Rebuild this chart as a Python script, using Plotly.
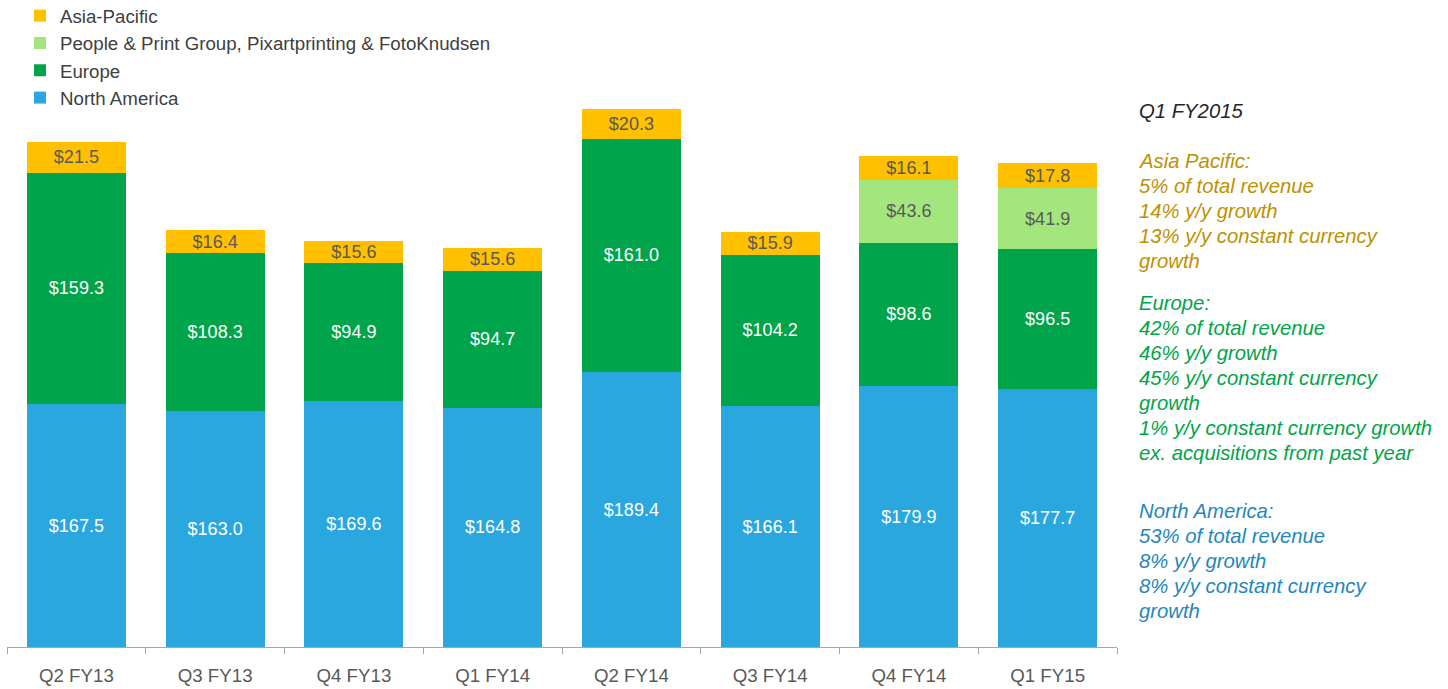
import plotly.graph_objects as go

categories = ["Q2 FY13", "Q3 FY13", "Q4 FY13", "Q1 FY14", "Q2 FY14", "Q3 FY14", "Q4 FY14", "Q1 FY15"]
north_america = [167.5, 163.0, 169.6, 164.8, 189.4, 166.1, 179.9, 177.7]
europe = [159.3, 108.3, 94.9, 94.7, 161.0, 104.2, 98.6, 96.5]
people_print = [None, None, None, None, None, None, 43.6, 41.9]
asia_pacific = [21.5, 16.4, 15.6, 15.6, 20.3, 15.9, 16.1, 17.8]

series = [
    ("North America", north_america, "#2AA7DF", "#FFFFFF"),
    ("Europe", europe, "#00A44A", "#FFFFFF"),
    ("People & Print Group, Pixartprinting & FotoKnudsen", people_print, "#A3E67E", "#595959"),
    ("Asia-Pacific", asia_pacific, "#FFC000", "#595959"),
]

FONT = "Liberation Sans, Arial, sans-serif"

fig = go.Figure()
for i, (name, vals, color, tcol) in enumerate(series):
    fig.add_trace(go.Bar(
        name=name, x=categories, y=vals,
        marker=dict(color=color, line=dict(width=0)),
        text=[("$%.1f" % v) if v is not None else "" for v in vals],
        textposition="inside", insidetextanchor="middle", constraintext="none",
        textfont=dict(family=FONT, size=18, color=tcol),
        legendgroup="g%d" % i,
        hoverinfo="skip",
    ))

# Plot area geometry (pixels)
L, R, T, B = 7, 1117, 100, 647
W, H = 1448, 689

def px(x):
    return (x - L) / (R - L)

def py(y):
    return (B - y) / (B - T)

notes = [
    ("Q1 FY2015", 111, "#262626"),
    ("Asia Pacific:", 161, "#BF9000"),
    ("5% of total revenue", 186, "#BF9000"),
    ("14% y/y growth", 211, "#BF9000"),
    ("13% y/y constant currency", 236, "#BF9000"),
    ("growth", 261, "#BF9000"),
    ("Europe:", 303, "#00A44A"),
    ("42% of total revenue", 328, "#00A44A"),
    ("46% y/y growth", 353, "#00A44A"),
    ("45% y/y constant currency", 378, "#00A44A"),
    ("growth", 403, "#00A44A"),
    ("1% y/y constant currency growth", 428, "#00A44A"),
    ("ex. acquisitions from past year", 453, "#00A44A"),
    ("North America:", 511, "#1F87BC"),
    ("53% of total revenue", 536, "#1F87BC"),
    ("8% y/y growth", 561, "#1F87BC"),
    ("8% y/y constant currency", 586, "#1F87BC"),
    ("growth", 611, "#1F87BC"),
]
for txt, y, col in notes:
    fig.add_annotation(
        text="<i>%s</i>" % txt, xref="paper", yref="paper",
        x=px(1137), y=py(y), xanchor="left", yanchor="middle",
        showarrow=False, font=dict(family=FONT, size=20.3, color=col),
    )

fig.update_layout(
    width=W, height=H,
    margin=dict(l=L, r=W - R, t=T, b=H - B, pad=0, autoexpand=False),
    barmode="stack", bargap=0.286,
    plot_bgcolor="white", paper_bgcolor="white",
    font=dict(family=FONT, size=18, color="#595959"),
    legend=dict(
        traceorder="reversed", xref="container", yref="paper",
        x=20 / W, y=py(-3), xanchor="left", yanchor="top",
        font=dict(family=FONT, size=18.7, color="#404040"),
        bgcolor="rgba(0,0,0,0)", tracegroupgap=0,
        itemclick=False, itemdoubleclick=False,
    ),
    xaxis=dict(
        showline=True, linecolor="#A6A6A6", linewidth=1,
        ticks="outside", tickson="boundaries", ticklen=6, tickcolor="#A6A6A6",
        tickfont=dict(family=FONT, size=18.7, color="#595959"),
        ticklabelstandoff=12, showgrid=False, fixedrange=True,
    ),
    yaxis=dict(
        range=[0, (B - T) / (243 / 167.5)], visible=False,
        showgrid=False, zeroline=False, fixedrange=True,
    ),
)

fig.write_html(
    "out.html",
    config={"displayModeBar": False},
    post_script="document.body.style.margin='0';document.body.style.overflow='hidden';",
)
